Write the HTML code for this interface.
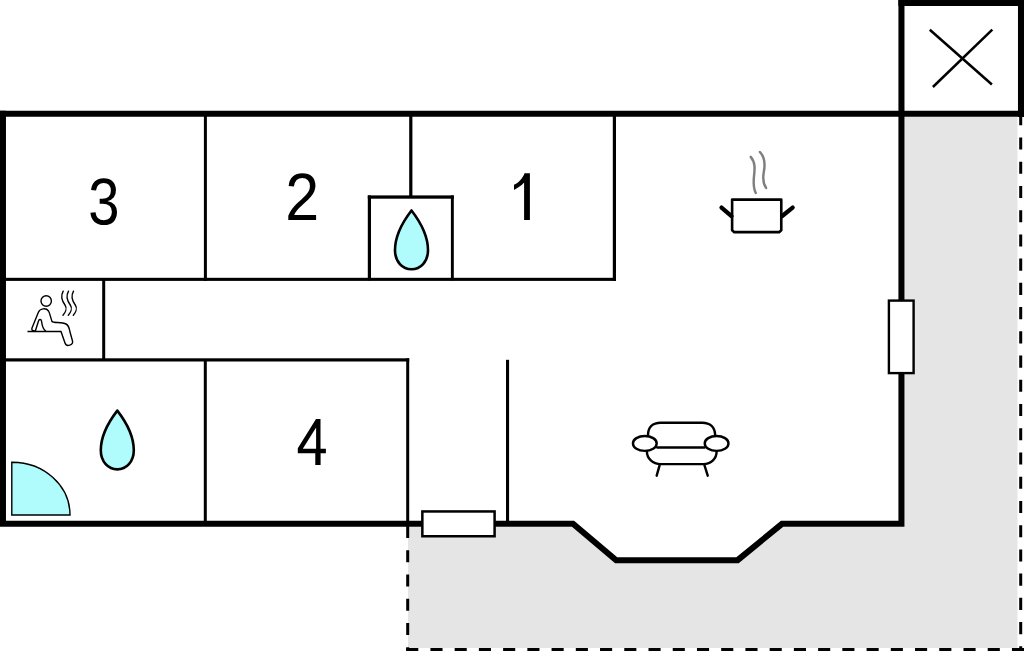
<!DOCTYPE html>
<html><head><meta charset="utf-8">
<style>
html,body{margin:0;padding:0;background:#fff;width:1024px;height:651px;overflow:hidden}
svg{display:block}
text{font-family:"Liberation Sans",sans-serif;fill:#000}
</style></head>
<body>
<svg width="1024" height="651" viewBox="0 0 1024 651">
<!-- gray exterior area -->
<path d="M408 527 L573 527 L616 563 L738 563 L782 527 L904.5 527 L904.5 117 L1017.5 117 L1017.5 648 L408 648 Z" fill="#e5e5e5"/>

<!-- dashed boundary -->
<g stroke="#000" stroke-width="3" fill="none">
  <line x1="407.7" y1="526" x2="407.7" y2="651" stroke-dasharray="12.1 12.13" stroke-dashoffset="0"/>
  <line x1="406.2" y1="649.5" x2="1024" y2="649.5" stroke-dasharray="12.1 12.13"/>
  <line x1="1020.7" y1="651" x2="1020.7" y2="117" stroke-dasharray="12.1 12.13" stroke-dashoffset="7.4"/>
</g>

<!-- outer walls -->
<g fill="none" stroke="#000" stroke-width="6.05" stroke-linejoin="miter" stroke-miterlimit="10">
  <path d="M0 113.8 H1024"/>
  <path d="M2.95 110.8 V523.8 H573 L616.2 560.2 H737.6 L782 523.8 H901.45 V0"/>
  <path d="M898.4 3 H1021 V117"/>
</g>

<!-- interior walls -->
<g fill="#000">
  <rect x="203.9" y="116" width="3" height="165"/>
  <rect x="409.2" y="116" width="3.2" height="82"/>
  <rect x="367.8" y="195.4" width="3.2" height="85"/>
  <rect x="450.9" y="195.4" width="2.9" height="85"/>
  <rect x="367.8" y="195.4" width="86" height="3.3"/>
  <rect x="5" y="277.8" width="611" height="3.1"/>
  <rect x="612.8" y="116" width="3.2" height="164.9"/>
  <rect x="102.2" y="280" width="3" height="80"/>
  <rect x="5" y="358.3" width="404.2" height="3.2"/>
  <rect x="406.2" y="358.3" width="3" height="164"/>
  <rect x="203.8" y="360" width="3" height="162"/>
  <rect x="506" y="359.8" width="3.1" height="162"/>
</g>

<!-- windows -->
<rect x="422.35" y="511.45" width="72.25" height="24.8" fill="#fff" stroke="#000" stroke-width="2.5"/>
<rect x="888.9" y="300.6" width="24.7" height="72.5" fill="#fff" stroke="#000" stroke-width="2.4"/>

<!-- X -->
<g stroke="#000" stroke-width="2.5">
  <line x1="929.8" y1="29.8" x2="991.9" y2="84.5"/>
  <line x1="992.3" y1="29.6" x2="932.9" y2="87"/>
</g>

<!-- numbers -->
<g fill="#000">
<path transform="matrix(0.027394 0 0 -0.032345 88.263 224.453)" d="M1049 389Q1049 194 925.0 87.0Q801 -20 571 -20Q357 -20 229.5 76.5Q102 173 78 362L264 379Q300 129 571 129Q707 129 784.5 196.0Q862 263 862 395Q862 510 773.5 574.5Q685 639 518 639H416V795H514Q662 795 743.5 859.5Q825 924 825 1038Q825 1151 758.5 1216.5Q692 1282 561 1282Q442 1282 368.5 1221.0Q295 1160 283 1049L102 1063Q122 1236 245.5 1333.0Q369 1430 563 1430Q775 1430 892.5 1331.5Q1010 1233 1010 1057Q1010 922 934.5 837.5Q859 753 715 723V719Q873 702 961.0 613.0Q1049 524 1049 389Z"/>
<path transform="matrix(0.029796 0 0 -0.032727 285.231 220.000)" d="M103 0V127Q154 244 227.5 333.5Q301 423 382.0 495.5Q463 568 542.5 630.0Q622 692 686.0 754.0Q750 816 789.5 884.0Q829 952 829 1038Q829 1154 761.0 1218.0Q693 1282 572 1282Q457 1282 382.5 1219.5Q306 1140 290 1022L116 1038Q131 1230 254.5 1330.0Q378 1430 572 1430Q785 1430 899.5 1329.5Q1014 1229 1014 1044Q1014 962 976.5 881.0Q939 800 865.0 719.0Q791 638 582 468Q467 374 399.0 298.5Q331 223 301 153H1036V0Z"/>
<path fill-rule="evenodd" d="M316 419.1 H320.5 V448.7 H325.9 V453.3 H320.6 V465 H315.3 V453.3 H297.8 V448.2 Z M316.1 427.6 L302.8 448.7 H316.1 Z"/>
<path d="M529.9 173.3 V220 H524.1 V182.6 C521.5 185.6,518 188,514 189.9 V184.8 C518.5 182.8,522.5 178.8,524.6 173.3 Z"/>
</g>

<!-- drops -->
<g fill="#b0fcfc" stroke="#000" stroke-width="2.6" stroke-linejoin="round">
  <path transform="translate(411.5,208.7)" d="M0 1.8 C7.5 11.5,16.5 25,16.5 41.5 C16.5 53,9 60.6,0 60.6 C-9 60.6,-16.5 53,-16.5 41.5 C-16.5 25,-7.5 11.5,0 1.8 Z"/>
  <path transform="translate(117.3,408.8)" d="M0 1.8 C7.5 11.5,16.5 25,16.5 41.5 C16.5 53,9 60.6,0 60.6 C-9 60.6,-16.5 53,-16.5 41.5 C-16.5 25,-7.5 11.5,0 1.8 Z"/>
</g>
<!-- door quarter -->
<path d="M11.8 515 V462.3 A57.8 52.7 0 0 1 70 515 Z" fill="#b0fcfc" stroke="#000" stroke-width="1.4"/>

<!-- sauna icon -->
<g transform="translate(20,285) scale(0.1)" fill="none" stroke="#000" stroke-width="14" stroke-linecap="round" stroke-linejoin="round">
  <circle cx="262" cy="160" r="52"/>
  <path d="M75 465 L410 465" stroke-linecap="butt"/>
  <path d="M135 458 C120 455,115 445,120 430 L185 270 C200 235,260 225,285 260 C300 285,310 340,320 365 C330 380,420 370,460 390 C490 405,495 440,500 470 L525 560 C535 600,465 625,450 580 L410 465"/>
  <path d="M255 458 C225 440,220 400,215 360 C212 340,190 340,185 360 L155 455 C150 462,140 462,135 458"/>
  <path d="M432 62 C405 110,420 160,450 200 C475 235,450 280,430 302"/>
  <path d="M485 62 C458 110,473 160,503 200 C528 235,503 280,483 302"/>
  <path d="M535 62 C508 110,523 160,553 200 C578 235,553 280,533 302"/>
</g>

<!-- pot icon -->
<g transform="translate(710,140) scale(0.15361)" fill="none" stroke-linecap="round" stroke-linejoin="round">
  <path d="M265 110 C300 150,290 200,285 250 C282 300,290 330,298 345" stroke="#7f7f7f" stroke-width="16"/>
  <path d="M325 78 C360 115,360 160,350 210 C342 255,350 290,365 312" stroke="#7f7f7f" stroke-width="16"/>
  <path d="M144 388 L464 388 L464 588 L450 600 L158 600 L144 588 Z" stroke="#000" stroke-width="17" fill="#fff"/>
  <path d="M75 440 L140 495" stroke="#000" stroke-width="28"/>
  <path d="M538 440 L470 495" stroke="#000" stroke-width="28"/>
</g>

<!-- sofa icon -->
<g transform="translate(625,410) scale(0.11523)" fill="none" stroke="#000" stroke-width="21" stroke-linecap="round">
  <path d="M200 215 C200 150,240 110,310 110 L670 110 C740 110,780 150,782 215"/>
  <path d="M190 360 C190 420,240 470,310 470 L680 470 C750 470,795 420,795 360"/>
  <path d="M280 325 L690 325"/>
  <ellipse cx="172" cy="290" rx="103" ry="65"/>
  <ellipse cx="795" cy="290" rx="103" ry="65"/>
  <path d="M300 480 L275 570"/>
  <path d="M690 480 L718 570"/>
</g>
</svg>
</body></html>
